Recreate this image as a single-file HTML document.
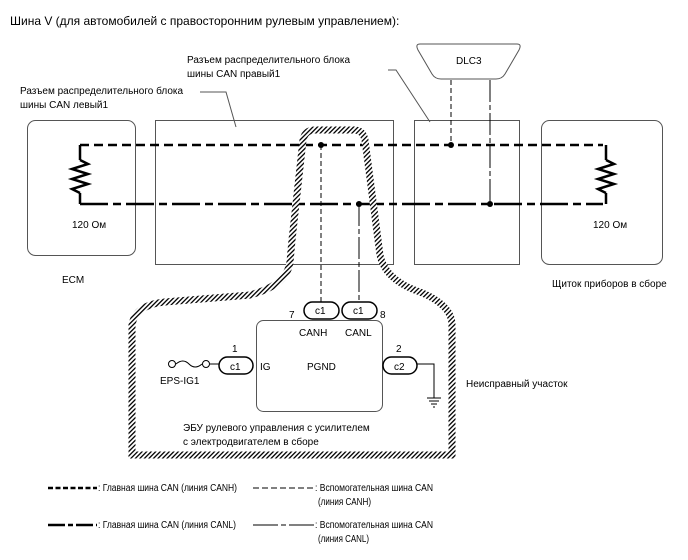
<!DOCTYPE html>
<html><head><meta charset="utf-8"><style>
body{margin:0;background:#fff}
svg{display:block}
text{font-family:"Liberation Sans",sans-serif;font-size:10px;fill:#000}
</style></head><body>
<svg width="688" height="560" viewBox="0 0 688 560" xmlns="http://www.w3.org/2000/svg">
<defs>
<pattern id="h" width="3.2" height="3.2" patternUnits="userSpaceOnUse" patternTransform="rotate(45)">
<rect width="3.2" height="3.2" fill="#fff"/><rect width="1.3" height="3.2" fill="#000"/>
</pattern>
</defs>
<text x="10" y="25" style="font-size:12px">Шина V (для автомобилей с правосторонним рулевым управлением):</text>

<rect x="27.5" y="120.5" width="108" height="135" rx="8" fill="none" stroke="#555"/>
<rect x="155.5" y="120.5" width="238" height="144" fill="none" stroke="#555"/>
<rect x="414.5" y="120.5" width="105" height="144" fill="none" stroke="#555"/>
<rect x="541.5" y="120.5" width="121" height="144" rx="8" fill="none" stroke="#555"/>

<path d="M420,44 Q415,44 418,50 L432,74 Q435,79 441,79 L496,79 Q502,79 505,74 L519,50 Q522,44 517,44 Z" fill="none" stroke="#555"/>
<text x="456" y="64">DLC3</text>

<text x="187" y="63">Разъем распределительного блока</text>
<text x="187" y="77">шины CAN правый1</text>
<polyline points="388,70 396,70 430,122" fill="none" stroke="#555"/>
<text x="20" y="94">Разъем распределительного блока</text>
<text x="20" y="108">шины CAN левый1</text>
<polyline points="200,92 226,92 236,127" fill="none" stroke="#555"/>

<path d="M80,145 L603,145" stroke="#000" stroke-width="2.5" stroke-dasharray="9,5" fill="none"/>
<path d="M80,204 L603,204" stroke="#000" stroke-width="2.5" stroke-dasharray="28,5,8,5" fill="none"/>
<path d="M80,145 V160 M80,193 V204 M606,145 V160 M606,193 V204" stroke="#000" stroke-width="2.5"/>
<polyline points="80,160 88,164 72,169 88,174 72,179 88,184 72,189 80,193" fill="none" stroke="#000" stroke-width="2.5"/>
<polyline points="606,160 614,164 598,169 614,174 598,179 614,184 598,189 606,193" fill="none" stroke="#000" stroke-width="2.5"/>
<text x="72" y="228">120 Ом</text>
<text x="593" y="228">120 Ом</text>
<text x="62" y="283">ECM</text>
<text x="552" y="287">Щиток приборов в сборе</text>

<path d="M451,80 V145" stroke="#000" stroke-dasharray="5,3" fill="none"/>
<path d="M490,80 V204" stroke="#000" stroke-dasharray="22,3,5,3" fill="none"/>
<path d="M321,145 V302" stroke="#000" stroke-dasharray="5,3" fill="none"/>
<path d="M359,204 V302" stroke="#000" stroke-dasharray="22,3,5,3" fill="none"/>
<circle cx="321" cy="145" r="3"/><circle cx="451" cy="145" r="3"/>
<circle cx="359" cy="204" r="3"/><circle cx="490" cy="204" r="3"/>

<path d="M292,240 L303,140 Q305,130 315,130 L354,130 Q363,130 365,140 L380,255 Q385,280 420,292 Q452,305 452,325 L452,455 L132,455 L132,325 Q135,305 165,302 L250,295 Q287,285 290,262 Z" fill="none" stroke="url(#h)" stroke-width="7"/>

<rect x="256.5" y="320.5" width="126" height="91" rx="7" fill="#fff" stroke="#555"/>
<rect x="304" y="302" width="35" height="17" rx="8.5" fill="#fff" stroke="#000" stroke-width="1.5"/>
<rect x="342" y="302" width="35" height="17" rx="8.5" fill="#fff" stroke="#000" stroke-width="1.5"/>
<text x="315" y="314">c1</text><text x="353" y="314">c1</text>
<text x="289" y="318">7</text><text x="380" y="318">8</text>
<text x="299" y="336">CANH</text><text x="345" y="336">CANL</text>

<rect x="219" y="357" width="34" height="17" rx="8.5" fill="#fff" stroke="#000" stroke-width="1.5"/>
<text x="230" y="370">c1</text>
<text x="232" y="352">1</text>
<text x="260" y="370">IG</text>
<circle cx="172" cy="364" r="3.5" fill="#fff" stroke="#000"/>
<circle cx="206" cy="364" r="3.5" fill="#fff" stroke="#000"/>
<path d="M176,364 Q183,358 189,364 Q195,370 202,364" fill="none" stroke="#000"/>
<path d="M210,364 H219" stroke="#000"/>
<text x="160" y="384">EPS-IG1</text>

<text x="307" y="370">PGND</text>
<rect x="383" y="357" width="34" height="17" rx="8.5" fill="#fff" stroke="#000" stroke-width="1.5"/>
<text x="394" y="370">c2</text>
<text x="396" y="352">2</text>
<polyline points="417,364 434,364 434,398" fill="none" stroke="#000"/>
<path d="M427,398 H441 M429,401 H439 M431,404 H437 M433,407 H435" stroke="#000"/>
<text x="466" y="387">Неисправный участок</text>
<text x="183" y="431">ЭБУ рулевого управления с усилителем</text>
<text x="183" y="445">с электродвигателем в сборе</text>

<path d="M48,488 H97" stroke="#000" stroke-width="2.5" stroke-dasharray="5,2.5"/>
<text x="98" y="491" textLength="139" lengthAdjust="spacingAndGlyphs">: Главная шина CAN (линия CANH)</text>
<path d="M253,488 H315" stroke="#000" stroke-dasharray="6,3"/>
<text x="315" y="491" textLength="118" lengthAdjust="spacingAndGlyphs">: Вспомогательная шина CAN</text>
<text x="318" y="505" textLength="53" lengthAdjust="spacingAndGlyphs">(линия CANH)</text>
<path d="M48,525 H97" stroke="#000" stroke-width="2.5" stroke-dasharray="17,3,5,3"/>
<text x="98" y="528" textLength="138" lengthAdjust="spacingAndGlyphs">: Главная шина CAN (линия CANL)</text>
<path d="M253,525 H315" stroke="#000" stroke-dasharray="25,3,5,3"/>
<text x="315" y="528" textLength="118" lengthAdjust="spacingAndGlyphs">: Вспомогательная шина CAN</text>
<text x="318" y="542" textLength="51" lengthAdjust="spacingAndGlyphs">(линия CANL)</text>
</svg>
</body></html>
